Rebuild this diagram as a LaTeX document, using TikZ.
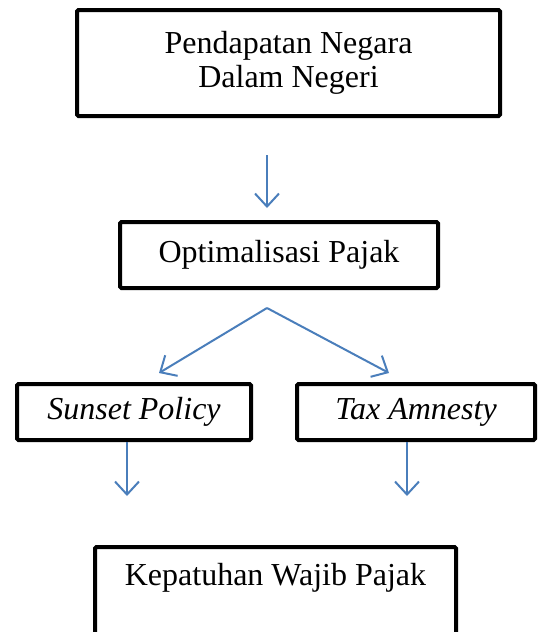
\documentclass[tikz,border=0pt]{standalone}
\usepackage{fontspec}
\setmainfont{Liberation Serif}
\usetikzlibrary{arrows.meta}
\definecolor{arrowblue}{RGB}{74,126,187}

\begin{document}
\begin{tikzpicture}[x=1pt,y=-1pt,
    box/.style={draw, line width=4pt, rounded corners=1.5pt, inner sep=0pt,
      align=center, font=\fontsize{32}{34}\selectfont},
    flow/.style={draw=arrowblue, line width=2pt,
      -{Straight Barb[length=13pt,width=24pt,line width=2pt]}}]
       \useasboundingbox(0,0)rectangle(540,632);
       \clip(0,0)rectangle(540,632);
       % boxes
       \node[box, minimum width=423, minimum height=106](Pendapatan)at(288.5,63){Pendapatan Negara\\Dalam Negeri};
       \node[box, minimum width=318, minimum height=66](Optimalisasi)at(279,255){Optimalisasi Pajak};
       \node[box, minimum width=234, minimum height=56](Sunset)at(134,412){\itshape Sunset Policy};
       \node[box, minimum width=238, minimum height=56](Amnesty)at(416,412){\itshape Tax Amnesty};
       \node[box, anchor=north, minimum width=361, text height=38, text depth=62](Kepatuhan)at(275.5,545){Kepatuhan Wajib Pajak};
       % arrow ends
       \coordinate(TopStart)at(267,155);
       \coordinate(TopEnd)at(267,208);
       \coordinate(Split)at(267,308);
       \coordinate(SunsetTip)at(159,373);
       \coordinate(AmnestyTip)at(389,373);
       \coordinate(SunsetEnd)at(127,496);
       \coordinate(AmnestyEnd)at(407,496);
       % arrows
       \draw[flow](TopStart)--(TopEnd);
       \draw[flow](Split)--(SunsetTip);
       \draw[flow](Split)--(AmnestyTip);
       \draw[flow](Sunset.south-|SunsetEnd)--(SunsetEnd);
       \draw[flow](Amnesty.south-|AmnestyEnd)--(AmnestyEnd);
      \end{tikzpicture}
\end{document}
